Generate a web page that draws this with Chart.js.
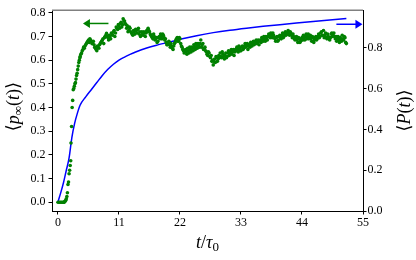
<!DOCTYPE html>
<html>
<head>
<meta charset="utf-8">
<script src="https://cdn.jsdelivr.net/npm/chart.js@4.4.0/dist/chart.umd.min.js"></script>
<style>
  html, body { margin: 0; padding: 0; background: #fff; }
  canvas { display: block; }
</style>
</head>
<body>
<canvas id="pChart" width="416" height="260"></canvas>
<script>
// <p_inf(t)> samples (left axis)
const pTimes = [
  0.0, 0.2, 0.4, 0.6, 0.8, 1.0, 1.1, 1.2, 1.3, 1.4, 1.5, 1.6, 1.7, 1.8, 1.9, 2.0, 2.1, 2.2, 2.3, 2.35,
  2.45, 2.55, 2.65, 2.75, 2.85, 2.95, 3.05, 3.15, 3.25, 3.35, 3.45, 3.55, 3.65, 3.75, 3.85, 3.95,
  4.0, 4.25, 4.5, 4.75, 5.0, 5.25, 5.5, 5.75, 6.0, 6.25, 6.5, 6.75, 7.0, 7.25, 7.5, 7.75,
  8.0, 8.25, 8.5, 8.75, 9.0, 9.25, 9.5, 9.75, 10.0, 10.25, 10.5, 10.75, 11.0, 11.25, 11.5, 11.75,
  12.0, 12.25, 12.5, 12.75, 13.0, 13.25, 13.5, 13.75, 14.0, 14.25, 14.5, 14.75, 15.0, 15.25, 15.5, 15.75,
  16.0, 16.25, 16.5, 16.75, 17.0, 17.25, 17.5, 17.75, 18.0, 18.25, 18.5, 18.75, 19.0, 19.25, 19.5, 19.75,
  20.0, 20.25, 20.5, 20.75, 21.0, 21.25, 21.5, 21.75, 22.0, 22.25, 22.5, 22.75, 23.0, 23.25, 23.5, 23.75,
  24.0, 24.25, 24.5, 24.75, 25.0, 25.25, 25.5, 25.75, 26.0, 26.25, 26.5, 26.75, 27.0, 27.25, 27.5, 27.75,
  28.0, 28.25, 28.5, 28.75, 29.0, 29.25, 29.5, 29.75, 30.0, 30.25, 30.5, 30.75, 31.0, 31.25, 31.5, 31.75,
  32.0, 32.25, 32.5, 32.75, 33.0, 33.25, 33.5, 33.75, 34.0, 34.25, 34.5, 34.75, 35.0, 35.25, 35.5, 35.75,
  36.0, 36.25, 36.5, 36.75, 37.0, 37.25, 37.5, 37.75, 38.0, 38.25, 38.5, 38.75, 39.0, 39.25, 39.5, 39.75,
  40.0, 40.25, 40.5, 40.75, 41.0, 41.25, 41.5, 41.75, 42.0, 42.25, 42.5, 42.75, 43.0, 43.25, 43.5, 43.75,
  44.0, 44.25, 44.5, 44.75, 45.0, 45.25, 45.5, 45.75, 46.0, 46.25, 46.5, 46.75, 47.0, 47.25, 47.5, 47.75,
  48.0, 48.25, 48.5, 48.75, 49.0, 49.25, 49.5, 49.75, 50.0, 50.25, 50.5, 50.75, 51.0, 51.25, 51.5, 51.75, 52.0
];
const pInf = [
  0, 0, 0, 0, 0, 0, 0, 0.002, 0.005, 0.008, 0.015, 0.024, 0.04, 0.075, 0.085, 0.12, 0.135, 0.155, 0.175, 0.25,
  0.32, 0.40, 0.43, 0.475, 0.48, 0.49, 0.50, 0.505, 0.52, 0.535, 0.545, 0.56, 0.575, 0.59, 0.60, 0.61,
  0.615, 0.63, 0.645, 0.65, 0.665, 0.675, 0.685, 0.69, 0.68, 0.675, 0.665, 0.65, 0.64, 0.655, 0.665, 0.675,
  0.685, 0.67, 0.70, 0.713, 0.695, 0.705, 0.69, 0.71, 0.72, 0.70, 0.74, 0.73, 0.745, 0.755, 0.74, 0.775,
  0.765, 0.75, 0.745, 0.725, 0.735, 0.715, 0.705, 0.72, 0.73, 0.715, 0.735, 0.72, 0.705, 0.715, 0.72, 0.70,
  0.725, 0.735, 0.72, 0.705, 0.695, 0.71, 0.685, 0.695, 0.68, 0.70, 0.71, 0.69, 0.705, 0.685, 0.675, 0.665,
  0.68, 0.655, 0.66, 0.645, 0.67, 0.685, 0.695, 0.68, 0.69, 0.66, 0.645, 0.63, 0.645, 0.625, 0.64, 0.655,
  0.635, 0.65, 0.665, 0.645, 0.66, 0.67, 0.655, 0.685, 0.665, 0.645, 0.655, 0.635, 0.62, 0.63, 0.61, 0.595,
  0.58, 0.605, 0.615, 0.595, 0.62, 0.63, 0.61, 0.625, 0.605, 0.63, 0.615, 0.64, 0.625, 0.645, 0.635, 0.62,
  0.645, 0.655, 0.635, 0.65, 0.64, 0.66, 0.65, 0.67, 0.66, 0.645, 0.665, 0.675, 0.66, 0.68, 0.67, 0.685,
  0.675, 0.665, 0.685, 0.695, 0.68, 0.69, 0.70, 0.685, 0.71, 0.695, 0.705, 0.715, 0.695, 0.68, 0.70, 0.685,
  0.705, 0.69, 0.715, 0.70, 0.72, 0.71, 0.725, 0.705, 0.715, 0.695, 0.70, 0.685, 0.70, 0.675, 0.69, 0.68,
  0.695, 0.705, 0.685, 0.71, 0.70, 0.69, 0.705, 0.68, 0.695, 0.685, 0.70, 0.69, 0.71, 0.70, 0.72, 0.705,
  0.695, 0.715, 0.69, 0.70, 0.685, 0.71, 0.70, 0.715, 0.69, 0.68, 0.70, 0.675, 0.69, 0.705, 0.685, 0.695, 0.67
];
// interleaved samples of the same series
const pTimesB = [
  4.125, 4.375, 4.625, 4.875, 5.125, 5.375, 5.625, 5.875, 6.125, 6.375, 6.625, 6.875, 7.125, 7.375, 7.625, 7.875,
  8.125, 8.375, 8.625, 8.875, 9.125, 9.375, 9.625, 9.875, 10.125, 10.375, 10.625, 10.875, 11.125, 11.375, 11.625, 11.875,
  12.125, 12.375, 12.625, 12.875, 13.125, 13.375, 13.625, 13.875, 14.125, 14.375, 14.625, 14.875, 15.125, 15.375, 15.625, 15.875,
  16.125, 16.375, 16.625, 16.875, 17.125, 17.375, 17.625, 17.875, 18.125, 18.375, 18.625, 18.875, 19.125, 19.375, 19.625, 19.875,
  20.125, 20.375, 20.625, 20.875, 21.125, 21.375, 21.625, 21.875, 22.125, 22.375, 22.625, 22.875, 23.125, 23.375, 23.625, 23.875,
  24.125, 24.375, 24.625, 24.875, 25.125, 25.375, 25.625, 25.875, 26.125, 26.375, 26.625, 26.875, 27.125, 27.375, 27.625, 27.875,
  28.125, 28.375, 28.625, 28.875, 29.125, 29.375, 29.625, 29.875, 30.125, 30.375, 30.625, 30.875, 31.125, 31.375, 31.625, 31.875,
  32.125, 32.375, 32.625, 32.875, 33.125, 33.375, 33.625, 33.875, 34.125, 34.375, 34.625, 34.875, 35.125, 35.375, 35.625, 35.875,
  36.125, 36.375, 36.625, 36.875, 37.125, 37.375, 37.625, 37.875, 38.125, 38.375, 38.625, 38.875, 39.125, 39.375, 39.625, 39.875,
  40.125, 40.375, 40.625, 40.875, 41.125, 41.375, 41.625, 41.875, 42.125, 42.375, 42.625, 42.875, 43.125, 43.375, 43.625, 43.875,
  44.125, 44.375, 44.625, 44.875, 45.125, 45.375, 45.625, 45.875, 46.125, 46.375, 46.625, 46.875, 47.125, 47.375, 47.625, 47.875,
  48.125, 48.375, 48.625, 48.875, 49.125, 49.375, 49.625, 49.875, 50.125, 50.375, 50.625, 50.875, 51.125, 51.375, 51.625, 51.875
];
const pInfB = [
  0.625, 0.64, 0.655, 0.66, 0.67, 0.68, 0.675, 0.685, 0.67, 0.68, 0.655, 0.645, 0.66, 0.65, 0.67, 0.68,
  0.69, 0.695, 0.705, 0.70, 0.685, 0.70, 0.715, 0.705, 0.725, 0.715, 0.735, 0.75, 0.735, 0.76, 0.75, 0.765,
  0.755, 0.735, 0.72, 0.74, 0.72, 0.71, 0.725, 0.71, 0.725, 0.73, 0.71, 0.70, 0.72, 0.705, 0.715, 0.715,
  0.72, 0.725, 0.71, 0.70, 0.69, 0.70, 0.69, 0.675, 0.695, 0.69, 0.70, 0.71, 0.695, 0.69, 0.665, 0.675,
  0.665, 0.67, 0.65, 0.66, 0.675, 0.69, 0.68, 0.695, 0.67, 0.655, 0.64, 0.64, 0.635, 0.65, 0.63, 0.645,
  0.655, 0.64, 0.655, 0.67, 0.65, 0.66, 0.67, 0.655, 0.67, 0.65, 0.64, 0.625, 0.635, 0.615, 0.62, 0.60,
  0.595, 0.59, 0.61, 0.605, 0.61, 0.615, 0.635, 0.615, 0.62, 0.61, 0.63, 0.62, 0.635, 0.625, 0.645, 0.635,
  0.64, 0.645, 0.66, 0.64, 0.655, 0.645, 0.66, 0.655, 0.67, 0.66, 0.655, 0.665, 0.675, 0.665, 0.68, 0.67,
  0.685, 0.68, 0.675, 0.685, 0.70, 0.68, 0.695, 0.70, 0.70, 0.715, 0.695, 0.705, 0.69, 0.695, 0.68, 0.70,
  0.695, 0.705, 0.695, 0.71, 0.705, 0.715, 0.715, 0.72, 0.705, 0.71, 0.69, 0.695, 0.685, 0.695, 0.675, 0.69,
  0.685, 0.695, 0.70, 0.69, 0.71, 0.695, 0.69, 0.70, 0.675, 0.695, 0.685, 0.70, 0.695, 0.715, 0.705, 0.725,
  0.705, 0.695, 0.71, 0.69, 0.695, 0.715, 0.705, 0.70, 0.70, 0.69, 0.685, 0.695, 0.68, 0.69, 0.70, 0.675
];

// <P(t)> curve (right axis)
const bigPTimes = [0, 0.5, 1.0, 1.5, 2.0, 2.5, 3.0, 3.5, 4.0, 5.0, 6.0, 7.0, 8.0, 9.0, 10.0, 11.0, 12.0, 13.0,
  14.0, 16.0, 18.0, 20.0, 22.0, 25.0, 28.0, 31.0, 34.0, 37.0, 40.0, 43.0, 46.0, 49.0, 52.0];
const bigP = [0.045, 0.09, 0.14, 0.2, 0.26, 0.36, 0.43, 0.48, 0.52, 0.56, 0.595, 0.63, 0.665, 0.695, 0.72, 0.74,
  0.755, 0.768, 0.78, 0.80, 0.815, 0.828, 0.842, 0.86, 0.875, 0.887, 0.897, 0.906, 0.914, 0.922, 0.93, 0.937, 0.944];

const xTicks = [0, 11, 22, 33, 44, 55];
const leftTicks = [0, 0.1, 0.2, 0.3, 0.4, 0.5, 0.6, 0.7, 0.8];
const rightTicks = [0, 0.2, 0.4, 0.6, 0.8];

const SERIF = "'Liberation Serif', 'DejaVu Serif', serif";
const GREEN = "#008000";
const BLUE = "#0000ff";

// draw a label made of pieces [text, italic, sizeScale, dy]
function drawPieces(ctx, pieces, size, cx, cy, angle) {
  ctx.save();
  ctx.translate(cx, cy);
  ctx.rotate(angle);
  ctx.fillStyle = "#000";
  ctx.textBaseline = "alphabetic";
  ctx.textAlign = "left";
  let total = 0;
  const widths = pieces.map(p => {
    ctx.font = (p[1] ? "italic " : "") + Math.round(size * p[2]) + "px " + SERIF;
    const w = ctx.measureText(p[0]).width;
    total += w;
    return w;
  });
  let x = -total / 2;
  pieces.forEach((p, i) => {
    ctx.font = (p[1] ? "italic " : "") + Math.round(size * p[2]) + "px " + SERIF;
    ctx.fillText(p[0], x, size * 0.35 + p[3]);
    x += widths[i];
  });
  ctx.restore();
}

function drawArrow(ctx, x1, x2, y, color) {
  const dir = Math.sign(x2 - x1);
  ctx.save();
  ctx.strokeStyle = color;
  ctx.fillStyle = color;
  ctx.lineWidth = 1.5;
  ctx.beginPath();
  ctx.moveTo(x1, y);
  ctx.lineTo(x2 - dir * 5, y);
  ctx.stroke();
  ctx.beginPath();
  ctx.moveTo(x2, y);
  ctx.lineTo(x2 - dir * 7, y - 4.5);
  ctx.lineTo(x2 - dir * 7, y + 4.5);
  ctx.closePath();
  ctx.fill();
  ctx.restore();
}

const decor = {
  id: "decor",
  afterDraw(chart) {
    const { ctx, chartArea: a, scales } = chart;
    // top spine
    ctx.save();
    ctx.strokeStyle = "#808080";
    ctx.lineWidth = 1.5;
    ctx.beginPath();
    ctx.moveTo(a.left, a.top);
    ctx.lineTo(a.right, a.top);
    ctx.stroke();
    ctx.restore();

    // direction arrows
    drawArrow(ctx, scales.x.getPixelForValue(9.1), scales.x.getPixelForValue(4.5),
      scales.y.getPixelForValue(0.755), GREEN);
    drawArrow(ctx, scales.x.getPixelForValue(50.2), scales.x.getPixelForValue(54.9),
      scales.y2.getPixelForValue(0.916), BLUE);

    const midY = (a.top + a.bottom) / 2;
    drawPieces(ctx, [["⟨", false, 1, 0], ["p", true, 1, 0], ["∞", false, 0.7, 3], ["(", false, 1, 0],
      ["t", true, 1, 0], [")", false, 1, 0], ["⟩", false, 1, 0]], 18, 13, midY - 4, -Math.PI / 2);
    drawPieces(ctx, [["⟨", false, 1, 0], ["P", true, 1, 0], ["(", false, 1, 0],
      ["t", true, 1, 0], [")", false, 1, 0], ["⟩", false, 1, 0]], 18, 404, midY, -Math.PI / 2);
    drawPieces(ctx, [["t", true, 1, 0], ["/", false, 1, 0], ["τ", true, 1, 0], ["0", false, 0.7, 3]],
      18, (a.left + a.right) / 2, 242, 0);
  }
};

const tickFont = { family: SERIF, size: 12 };
const axisGrid = { drawOnChartArea: false, drawTicks: true, tickLength: 3.5, tickColor: "#000", tickWidth: 1 };
const axisBorder = { display: true, color: "#000", width: 1 };

const greenPoints = pTimes.map((t, i) => ({ x: t, y: pInf[i] }))
  .concat(pTimesB.map((t, i) => ({ x: t, y: pInfB[i] })));

new Chart(document.getElementById("pChart"), {
  data: {
    datasets: [
      {
        type: "scatter",
        label: "p_inf",
        data: greenPoints,
        yAxisID: "y",
        backgroundColor: GREEN,
        borderColor: GREEN,
        borderWidth: 0,
        pointRadius: 1.8,
        pointHoverRadius: 1.8
      },
      {
        type: "line",
        label: "P",
        data: bigPTimes.map((t, i) => ({ x: t, y: bigP[i] })),
        yAxisID: "y2",
        borderColor: BLUE,
        borderWidth: 1.5,
        pointRadius: 0,
        fill: false,
        cubicInterpolationMode: "monotone"
      }
    ]
  },
  options: {
    responsive: false,
    animation: false,
    layout: { padding: { top: 10, left: 0, right: 0, bottom: 0 } },
    plugins: { legend: { display: false }, tooltip: { enabled: false } },
    scales: {
      x: {
        type: "linear",
        position: "bottom",
        min: -1.08,
        max: 55,
        afterBuildTicks: s => { s.ticks = xTicks.map(v => ({ value: v })); },
        afterFit: s => { s.height = 49; },
        ticks: { font: tickFont, color: "#000", padding: 1, maxRotation: 0, autoSkip: false,
          callback: v => String(v) },
        grid: axisGrid,
        border: axisBorder
      },
      y: {
        type: "linear",
        position: "left",
        min: -0.037,
        max: 0.811,
        afterBuildTicks: s => { s.ticks = leftTicks.map(v => ({ value: v })); },
        afterFit: s => { s.width = 52; },
        ticks: { font: tickFont, color: "#000", padding: 3, autoSkip: false,
          callback: v => v.toFixed(1) },
        grid: axisGrid,
        border: axisBorder
      },
      y2: {
        type: "linear",
        position: "right",
        min: 0,
        max: 0.985,
        afterBuildTicks: s => { s.ticks = rightTicks.map(v => ({ value: v })); },
        afterFit: s => { s.width = 53; },
        ticks: { font: tickFont, color: "#000", padding: 1, autoSkip: false,
          callback: v => v.toFixed(1) },
        grid: axisGrid,
        border: axisBorder
      }
    }
  },
  plugins: [decor]
});
</script>
</body>
</html>
